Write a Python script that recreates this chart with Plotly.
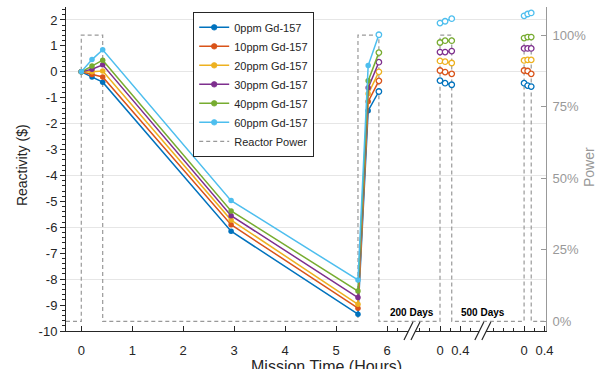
import plotly.graph_objects as go

# ---------------- data ----------------
series_names = ["0ppm Gd-157", "10ppm Gd-157", "20ppm Gd-157",
                "30ppm Gd-157", "40ppm Gd-157", "60ppm Gd-157"]
colors = ["#0072BD", "#D95319", "#EDB120", "#7E2F8E", "#77AC30", "#4DBEEE"]

# mission time (hours) in the first (startup) segment
t_main = [0, 0.21, 0.42, 2.94, 5.43, 5.63, 5.84]
rho_main = [
    [0, -0.20, -0.40, -6.15, -9.35, -1.50, -0.76],
    [0, -0.10, -0.20, -5.90, -9.12, -1.15, -0.35],
    [0, 0.00, 0.03, -5.72, -8.97, -0.85, 0.00],
    [0, 0.10, 0.27, -5.55, -8.71, -0.62, 0.37],
    [0, 0.22, 0.45, -5.37, -8.46, -0.35, 0.74],
    [0, 0.47, 0.85, -4.97, -8.03, 0.24, 1.43],
]

# after 200 days
t_200 = [0, 0.10, 0.23]
rho_200 = [
    [-0.34, -0.44, -0.50],
    [0.05, -0.01, -0.08],
    [0.42, 0.39, 0.34],
    [0.76, 0.76, 0.80],
    [1.13, 1.20, 1.20],
    [1.88, 1.95, 2.05],
]

# after 500 days
t_500 = [0, 0.07, 0.14]
rho_500 = [
    [-0.44, -0.53, -0.57],
    [0.05, 0.03, -0.08],
    [0.44, 0.46, 0.46],
    [0.90, 0.90, 0.90],
    [1.30, 1.34, 1.34],
    [2.16, 2.23, 2.27],
]

# reactor power (%) step profile in each segment
power_main_t = [-0.3, 0, 0, 0.42, 0.42, 5.43, 5.43, 5.84, 5.84]
power_main_p = [0, 0, 100, 100, 0, 0, 100, 100, 0]
power_200_t = [0, 0, 0.23, 0.23]
power_200_p = [0, 100, 100, 0]
power_500_t = [0, 0, 0.14, 0.14, 0.43]
power_500_p = [0, 100, 100, 0, 0]

x_tick_main = [0, 1, 2, 3, 4, 5, 6]
seg_tick_rel = [0, 0.4]
seg_tick_text = ["0", "0.4"]
seg_labels = ["200 Days", "500 Days"]
rho_ticks = list(range(-10, 3))
power_ticks = [0, 25, 50, 75, 100]

# ---------------- layout constants ----------------
OFF_200 = 7.04      # where the 200-day segment starts on the broken axis
OFF_500 = 8.69      # where the 500-day segment starts on the broken axis
BREAKS = [6.49, 7.88]
X_RANGE = [-0.3, 9.12]
RHO_RANGE = [-10, 2.5]
P_RANGE = [-3.35, 109.8]

FONT = "Liberation Sans, Arial, Helvetica, sans-serif"
DARK = "#262626"
GREY = "#999999"

fig = go.Figure()

# reactor power (primary y, right side, drawn underneath)
px = power_main_t + [OFF_200 + t for t in power_200_t] + [OFF_500 + t for t in power_500_t]
pp = power_main_p + power_200_p + power_500_p
fig.add_trace(go.Scatter(x=px, y=pp, mode="lines", name="Reactor Power",
                         line=dict(color=GREY, width=1.2, dash="4px,3px"),
                         yaxis="y", legendrank=7))

# dummy trace for the grid axis
fig.add_trace(go.Scatter(x=[None], y=[None], yaxis="y3", showlegend=False,
                         hoverinfo="skip"))

for i, (name, c) in enumerate(zip(series_names, colors)):
    xs = list(t_main) + [None] + [OFF_200 + t for t in t_200] + [None] + [OFF_500 + t for t in t_500]
    ys = list(rho_main[i]) + [None] + list(rho_200[i]) + [None] + list(rho_500[i])
    n_main = len(t_main)
    fill = [c] * (n_main - 1) + ["white"] * (len(xs) - n_main + 1)
    lw = [0] * (n_main - 1) + [1.3] * (len(xs) - n_main + 1)
    fig.add_trace(go.Scatter(
        x=xs, y=ys, mode="lines+markers", name=name, yaxis="y2",
        line=dict(color=c, width=1.5),
        marker=dict(size=5.5, color=fill, line=dict(color=c, width=lw)),
        legendrank=i + 1))

# x ticks
tickvals = x_tick_main + [OFF_200 + v for v in seg_tick_rel] + [OFF_500 + v for v in seg_tick_rel]
ticktext = [str(v) for v in x_tick_main] + seg_tick_text + seg_tick_text
minor_vals = [6.2]
for off, rels in ((OFF_200, [-0.4, -0.2, 0.2, 0.6]), (OFF_500, [-0.6, -0.4, -0.2, 0.2])):
    minor_vals += [off + r for r in rels]

fig.update_layout(
    template="none",
    width=597, height=369,
    margin=dict(l=66, r=51, t=7, b=38, autoexpand=False),
    paper_bgcolor="white", plot_bgcolor="white",
    font=dict(family=FONT, size=13, color=DARK),
    showlegend=True,
    legend=dict(x=0.265, y=0.985, xanchor="left", yanchor="top",
                bgcolor="white", bordercolor=DARK, borderwidth=1,
                font=dict(size=11, color=DARK), tracegroupgap=0),
    xaxis=dict(range=X_RANGE, showline=True, linecolor=DARK, linewidth=1,
               ticks="inside", ticklen=5, tickcolor=DARK,
               tickmode="array", tickvals=tickvals, ticktext=ticktext,
               minor=dict(tickmode="array", tickvals=minor_vals, ticks="inside",
                          ticklen=3, tickcolor=DARK, showgrid=False),
               showgrid=False, zeroline=False, ticklabelstandoff=7,
               anchor="y", automargin=False),
    yaxis=dict(range=P_RANGE, side="right", showline=True, linecolor=GREY,
               ticks="inside", ticklen=5, tickcolor=GREY,
               tickmode="array", tickvals=power_ticks,
               ticktext=["%d%%" % v for v in power_ticks],
               tickfont=dict(color=GREY, size=13), showgrid=False,
               zeroline=False, anchor="x", ticklabelstandoff=3,
               automargin=False),
    yaxis2=dict(range=RHO_RANGE, side="left", overlaying="y", anchor="x",
                showline=True, linecolor=DARK, ticks="outside", ticklen=5,
                tickcolor=DARK, tickmode="array", tickvals=rho_ticks,
                ticktext=[str(v) for v in rho_ticks],
                minor=dict(dtick=0.2, ticks="outside", ticklen=3,
                           tickcolor=DARK, showgrid=False),
                showgrid=False, zeroline=False, tickfont=dict(size=13),
                automargin=False),
    yaxis3=dict(range=RHO_RANGE, overlaying="y", side="left", anchor="x",
                tickmode="array", tickvals=list(range(-10, 3, 2)),
                showgrid=True, gridcolor="#e6e6e6", gridwidth=1,
                showticklabels=False, ticks="", showline=False, zeroline=False,
                automargin=False),
)

# axis titles as annotations
fig.add_annotation(text="Reactivity ($)", xref="paper", yref="paper",
                   x=-0.0917, y=0.512, xanchor="center", yanchor="middle",
                   textangle=-90, showarrow=False,
                   font=dict(size=14, color=DARK))
fig.add_annotation(text="Power", xref="paper", yref="paper",
                   x=1.0896, y=0.506, xanchor="center", yanchor="middle",
                   textangle=-90, showarrow=False,
                   font=dict(size=14, color=GREY))
fig.add_annotation(text="Mission Time (Hours)", xref="paper", yref="paper",
                   x=0.5417, y=-0.0772, xanchor="center", yanchor="top",
                   showarrow=False, font=dict(size=16, color=DARK))

# segment labels and axis breaks
for bx, lab in zip(BREAKS, seg_labels):
    fig.add_annotation(text="<b>%s</b>" % lab, x=bx, y=-9.3, xref="x", yref="y2",
                       showarrow=False, font=dict(size=10, color="black"))
    fig.add_shape(type="path", xref="x", yref="paper", xsizemode="pixel",
                  ysizemode="pixel", xanchor=bx, yanchor=0,
                  path="M -8,-9 L 1,9 L 8,9 L -1,-9 Z",
                  fillcolor="white", line=dict(width=0), layer="above")
    for dx in (-3.5, 3.5):
        fig.add_shape(type="line", xref="x", yref="paper", xsizemode="pixel",
                      ysizemode="pixel", xanchor=bx, yanchor=0,
                      x0=dx - 4.5, y0=-9, x1=dx + 4.5, y1=9,
                      line=dict(color=DARK, width=1.2), layer="above")

fig.write_html("out.html", config={"displayModeBar": False},
               post_script="document.body.style.margin='0px';"
                           "document.body.style.overflow='hidden';")
